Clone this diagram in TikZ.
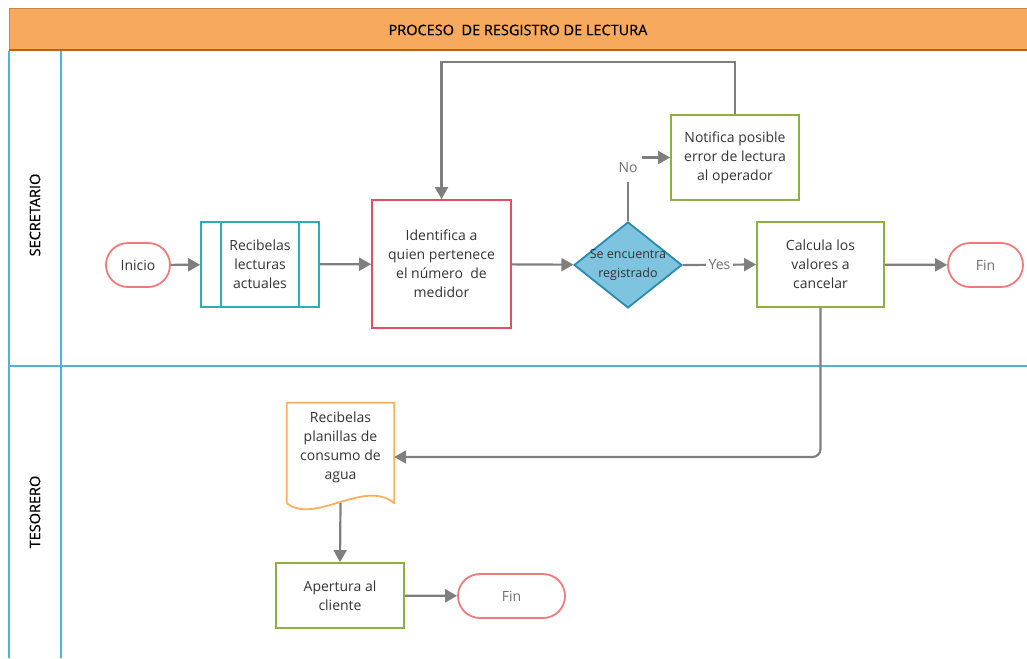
\documentclass[tikz,border=0pt]{standalone}
\usepackage{fontspec}
\setmainfont{Open Sans}
\newfontfamily\headfont[FakeBold=0.6]{Open Sans}
\usetikzlibrary{arrows.meta,calc,shapes.geometric,shapes.misc}
\definecolor{hdrfill}{HTML}{F7A95E}
\definecolor{hdredge}{HTML}{B8621E}
\definecolor{lane}{HTML}{4BB5E0}
\definecolor{termred}{HTML}{F07A7A}
\definecolor{procteal}{HTML}{2AB0B0}
\definecolor{idred}{HTML}{E05060}
\definecolor{actgreen}{HTML}{8DB040}
\definecolor{decfill}{HTML}{7EC4DE}
\definecolor{decedge}{HTML}{2A8AB0}
\definecolor{docorange}{HTML}{F7B060}
\definecolor{flowgray}{HTML}{7F7F7F}
\definecolor{txt}{HTML}{333333}
\definecolor{lbltxt}{HTML}{6E6E6E}
\begin{document}
\begin{tikzpicture}[x=1pt,y=-1pt,
  font=\fontsize{14}{19}\selectfont, text=txt,
  lanestyle/.style={draw=lane, line width=2pt},
  term/.style={rounded rectangle, draw=termred, line width=1.8pt, minimum height=44pt, inner sep=0pt},
  box/.style={rectangle, draw=#1, line width=1.8pt, align=center, inner sep=0pt},
  flow/.style={draw=flowgray, line width=2.2pt, -{Triangle[length=12pt,width=13pt]}},
  lbl/.style={fill=white, text=lbltxt, inner sep=3pt},
  lanelbl/.style={rotate=90, font=\headfont\fontsize{14.5}{16}\selectfont, text=black}
]
\useasboundingbox (0,0) rectangle (1027,658);

% header band
\fill[hdrfill] (9,8) rectangle (1027,50);
\draw[hdrfill!80!black, line width=0.6pt] (9,50) -- (9,8) -- (1027,8);
\draw[hdredge, line width=2pt] (9,50) -- (1027,50);
\node[font=\headfont\fontsize{14.5}{16}\selectfont, text=black] (title) at (518,30) {PROCESO\ \ DE RESGISTRO DE LECTURA};

% swimlanes
\draw[lanestyle] (9,51) -- (9,658);
\draw[lanestyle] (61,51) -- (61,658);
\draw[lanestyle] (9,366) -- (1027,366);
\node[lanelbl] (lsec) at (35,215) {SECRETARIO};
\node[lanelbl] (ltes) at (35,512) {TESORERO};

% secretario lane
\node[term, minimum width=64pt] (inicio) at (138,265) {Inicio};
\node[box=procteal, minimum width=118pt, minimum height=85pt] (lect) at (260,264.5) {Recibelas\\lecturas\\actuales};
\draw[procteal, line width=1.8pt] ($(lect.north west)+(21,0)$) -- ($(lect.south west)+(21,0)$);
\draw[procteal, line width=1.8pt] ($(lect.north east)+(-21,0)$) -- ($(lect.south east)+(-21,0)$);
\node[box=idred, minimum width=139pt, minimum height=128pt] (ident) at (441.5,264) {Identifica a\\quien pertenece\\el número\ \ de\\medidor};
\node[diamond, draw=decedge, fill=decfill, line width=1.8pt, minimum width=108pt, minimum height=86pt, inner sep=0pt,
  label={[align=center, font=\fontsize{12.5}{19}\selectfont, text=txt]center:Se encuentra\\registrado}] (dec) at (628,265) {};
\node[box=actgreen, minimum width=128pt, minimum height=85pt] (notif) at (735,157.5) {Notifica posible\\error de lectura\\al operador};
\node[box=actgreen, minimum width=127pt, minimum height=85pt] (calc) at (820.5,264.5) {Calcula los\\valores a\\cancelar};
\node[term, minimum width=75pt, text=lbltxt] (fin1) at (985.5,265) {Fin};

% tesorero lane
\node[minimum width=107pt, minimum height=100pt, inner sep=0pt] (plan) at (340.5,453) {};
\draw[docorange, line width=1.8pt, line join=round]
  (plan.south west) -- (plan.north west) -- (plan.north east) -- (plan.south east)
  .. controls ($(plan.south east)+(-29,-25)$) and ($(plan.south west)+(28,22)$) .. (plan.south west);
\node[align=center] (plantxt) at ($(plan.center)+(0,-6)$) {Recibelas\\planillas de\\consumo de\\agua};
\node[box=actgreen, minimum width=128pt, minimum height=65pt] (apert) at (340,595.5) {Apertura al\\cliente};
\node[term, minimum width=107pt, text=lbltxt] (fin2) at (511.5,596) {Fin};

% connectors
\draw[flow] (inicio) -- (lect);
\draw[flow] (lect) -- (ident);
\draw[flow] (ident) -- (dec);
\draw[flow] (dec.east) -- node[lbl] (yes) {Yes} (calc.west);
\draw[flow] (dec.north) |- (notif.west);
\node[lbl, minimum width=27pt, minimum height=28pt] (no) at (628,168) {No};
\draw[flow] (notif.north) -- ++(0,-52) -| (ident.north);
\draw[flow] (calc) -- (fin1);
\draw[flow, rounded corners=8pt] (calc.south) |- ([yshift=-4pt]plan.east);
\draw[flow] (plan.south) -- (apert.north);
\draw[flow] (apert) -- (fin2);
\end{tikzpicture}
\end{document}
